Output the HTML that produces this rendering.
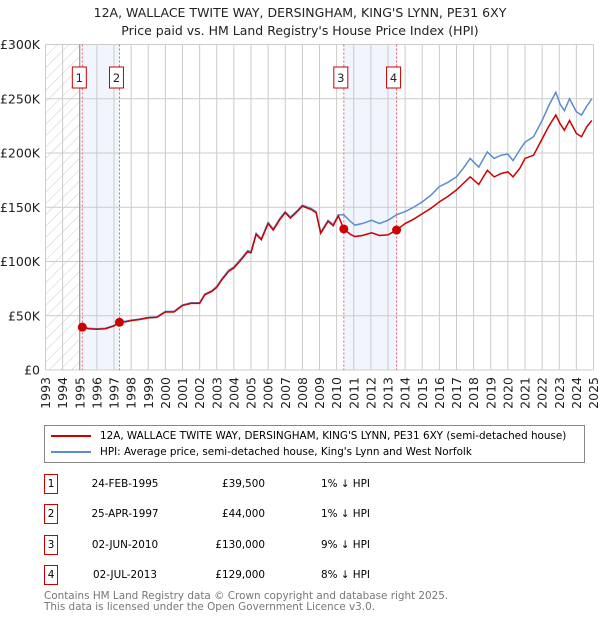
<!DOCTYPE html>
<html><head><meta charset="utf-8"><style>
body{margin:0;background:#fff;font-family:"Liberation Sans","DejaVu Sans",sans-serif;}
#wrap{position:relative;width:600px;height:620px;overflow:hidden;}
</style></head><body>
<div id="wrap">
<svg id="chart" width="600" height="620" xmlns="http://www.w3.org/2000/svg" style="font-family:'DejaVu Sans','Liberation Sans',sans-serif">
<defs><pattern id="hatch" width="8" height="8" patternUnits="userSpaceOnUse" patternTransform="rotate(45)"><line x1="0" y1="0" x2="0" y2="8" stroke="#ccc" stroke-width="1"/></pattern></defs>
<text x="300" y="17" text-anchor="middle" font-size="12.5" fill="#222">12A, WALLACE TWITE WAY, DERSINGHAM, KING'S LYNN, PE31 6XY</text>
<text x="300" y="35" text-anchor="middle" font-size="12.5" fill="#222">Price paid vs. HM Land Registry's House Price Index (HPI)</text>
<g id="bg"></g><g id="grid"></g><g id="axes"></g><g id="series"></g><g id="marks"></g>
</svg>
<div style="position:absolute;left:44px;top:425px;width:539px;height:36px;border:1px solid #888;font-size:10.4px;font-family:'DejaVu Sans',sans-serif;">
<div style="position:absolute;left:6px;top:4px;white-space:nowrap"><span style="display:inline-block;width:40px;height:2px;background:#c00;vertical-align:middle;margin-right:9px"></span>12A, WALLACE TWITE WAY, DERSINGHAM, KING'S LYNN, PE31 6XY (semi-detached house)</div>
<div style="position:absolute;left:6px;top:20px;white-space:nowrap"><span style="display:inline-block;width:40px;height:2px;background:#5b8bd0;vertical-align:middle;margin-right:9px"></span>HPI: Average price, semi-detached house, King's Lynn and West Norfolk</div>
</div>
<div id="table" style="font-size:10.4px;font-family:'DejaVu Sans',sans-serif;"></div>
<div style="position:absolute;left:44px;top:591px;font-size:10.4px;color:#777;line-height:10.5px;font-family:'DejaVu Sans',sans-serif;">Contains HM Land Registry data © Crown copyright and database right 2025.<br>This data is licensed under the Open Government Licence v3.0.</div>
</div>
<script>
const hpiYears=[1995.1,1995.5,1996,1996.5,1997,1997.3,1997.7,1998,1998.5,1999,1999.5,2000,2000.5,2001,2001.5,2002,2002.3,2002.7,2003,2003.3,2003.7,2004,2004.5,2004.8,2005,2005.3,2005.6,2006,2006.3,2006.7,2007,2007.3,2007.7,2008,2008.5,2008.8,2009.07,2009.5,2009.8,2010.1,2010.42,2010.8,2011.07,2011.5,2012.05,2012.5,2013,2013.5,2014,2014.5,2015,2015.5,2016,2016.5,2017,2017.4,2017.8,2018.3,2018.8,2019.2,2019.6,2020,2020.3,2020.7,2021,2021.5,2022,2022.4,2022.8,2023.05,2023.3,2023.6,2024,2024.3,2024.6,2024.9];
const hpiValues=[40,38.5,38,38.5,41,44,45,46,47,48.5,49,54,54,60,62,62,70,73,77,84,92,95,104,110,109,126,121,136,130,140,146,141,147,152,149,146,127,138,134,143,143,137,133.5,135,138,135,138,143,146,150,155,161,169,173,178,186,195,187,201,195,198,199,193,203,210,215,230,244,256,245,239,250,238,235,243,250];
const salesYears=[1995.15,1997.32,2010.42,2013.5];
const salesPrices=[39.5,44,130,129];
const redYears=[1995.15,1995.5,1996,1996.5,1997,1997.32,1997.7,1998,1998.5,1999,1999.5,2000,2000.5,2001,2001.5,2002,2002.3,2002.7,2003,2003.3,2003.7,2004,2004.5,2004.8,2005,2005.3,2005.6,2006,2006.3,2006.7,2007,2007.3,2007.7,2008,2008.5,2008.8,2009.07,2009.5,2009.8,2010.1,2010.42,2010.8,2011.07,2011.5,2012.05,2012.5,2013,2013.5,2014,2014.5,2015,2015.5,2016,2016.5,2017,2017.4,2017.8,2018.3,2018.8,2019.2,2019.6,2020,2020.3,2020.7,2021,2021.5,2022,2022.4,2022.8,2023.05,2023.3,2023.6,2024,2024.3,2024.6,2024.9];
const redValues=[39.5,38,37.6,38,40.6,44,44.5,45.5,46.5,48,48.5,53.5,53.5,59.4,61.4,61.4,69.3,72.3,76.2,83.2,91,94,103,109,108,125,120,135,129,139,145,140,146,151,148,145,126,137,133,142,130,125,123,124,126.5,124,124.5,129,135,139,144,149,155,160,166,172,178,171,184,178,181,182.6,178,186,195,198,213,225,235,227,221,230,218,215,224,230];
const yTicks=[0,50,100,150,200,250,300];
const yTickLabels=["£0","£50K","£100K","£150K","£200K","£250K","£300K"];
const xTicks=[1993,1994,1995,1996,1997,1998,1999,2000,2001,2002,2003,2004,2005,2006,2007,2008,2009,2010,2011,2012,2013,2014,2015,2016,2017,2018,2019,2020,2021,2022,2023,2024,2025];
const saleLabels=["1","2","3","4"];
const saleDates=["24-FEB-1995","25-APR-1997","02-JUN-2010","02-JUL-2013"];
const salePriceText=["£39,500","£44,000","£130,000","£129,000"];
const salePct=["1% ↓ HPI","1% ↓ HPI","9% ↓ HPI","8% ↓ HPI"];

const X0=45.5,X1=593.5,Y0=370,Y1=44.5;
const xs=v=>X0+(v-1993)/(2025-1993)*(X1-X0);
const ys=v=>Y0-(v/300)*(Y0-Y1);
const NS="http://www.w3.org/2000/svg";
function mk(tag,attrs,parent,text){const e=document.createElementNS(NS,tag);for(const k in attrs)e.setAttribute(k,attrs[k]);if(text!==undefined)e.textContent=text;parent.appendChild(e);return e;}
const bg=document.getElementById('bg'),grid=document.getElementById('grid'),axes=document.getElementById('axes'),series=document.getElementById('series'),marks=document.getElementById('marks');
let r=mk('rect',{x:X0,y:Y1,width:xs(1995)-X0,height:Y0-Y1,fill:'url(#hatch)'},bg);


[[0,1],[2,3]].forEach(p=>{const s=mk('rect',{x:xs(salesYears[p[0]]),y:Y1,width:xs(salesYears[p[1]])-xs(salesYears[p[0]]),height:Y0-Y1,fill:'#eef3fc',opacity:0.8},bg);

});
xTicks.forEach(t=>{const l=mk('line',{x1:xs(t),x2:xs(t),y1:Y1,y2:Y0,stroke:'#ccc','stroke-width':1},grid);


const tx=mk('text',{x:0,y:0,transform:`translate(${xs(t)+4.5},377) rotate(-90)`,'text-anchor':'end','font-size':12.5,fill:'#222'},axes,String(t));

});
yTicks.forEach((t,i)=>{const l=mk('line',{x1:X0,x2:X1,y1:ys(t),y2:ys(t),stroke:'#ccc','stroke-width':1},grid);


const tx=mk('text',{x:40,y:ys(t)+4.5,'text-anchor':'end','font-size':12.5,fill:'#222'},axes,yTickLabels[i]);

});
const vl=mk('line',{x1:xs(1995),x2:xs(1995),y1:Y1,y2:Y0,stroke:'#888','stroke-width':1},grid);


const blue=mk('polyline',{points:hpiYears.map((y,i)=>xs(y)+','+ys(hpiValues[i])).join(' '),fill:'none',stroke:'#5b8bd0','stroke-width':1.5},series);


const red=mk('polyline',{points:redYears.map((y,i)=>xs(y)+','+ys(redValues[i])).join(' '),fill:'none',stroke:'#cc0000','stroke-width':1.5},series);


salesYears.forEach((y,i)=>{const l=mk('line',{x1:xs(y),x2:xs(y),y1:Y1,y2:Y0,stroke:'#f06060','stroke-width':1,'stroke-dasharray':'2,2'},marks);


const c=mk('circle',{cx:xs(y),cy:ys(salesPrices[i]),r:4.5,fill:'#cc0000'},marks);


const bx=xs(y)-3;
const b=mk('rect',{x:bx-7,y:67,width:14,height:21,fill:'#fff',stroke:'#cc0000','stroke-width':1},marks);


const t=mk('text',{x:bx,y:82,'text-anchor':'middle','font-size':11.5,fill:'#222'},marks,saleLabels[i]);

});
const tbl=document.getElementById('table');
const rowY=[483,513,544,574];
saleLabels.forEach((s,i)=>{const row=document.createElement('div');


row.style.cssText=`position:absolute;left:0;top:${rowY[i]-9}px;width:600px;height:20px;`;
row.innerHTML=`<div style="position:absolute;left:44px;top:0;width:12px;height:18px;border:1px solid #c00;text-align:center;line-height:18px">${s}</div><div style="position:absolute;left:70px;width:110px;text-align:center;line-height:20px">${saleDates[i]}</div><div style="position:absolute;left:165px;width:100px;text-align:right;line-height:20px">${salePriceText[i]}</div><div style="position:absolute;left:321px;line-height:20px">${salePct[i]}</div>`;
tbl.appendChild(row);});
</script>
</body></html>
